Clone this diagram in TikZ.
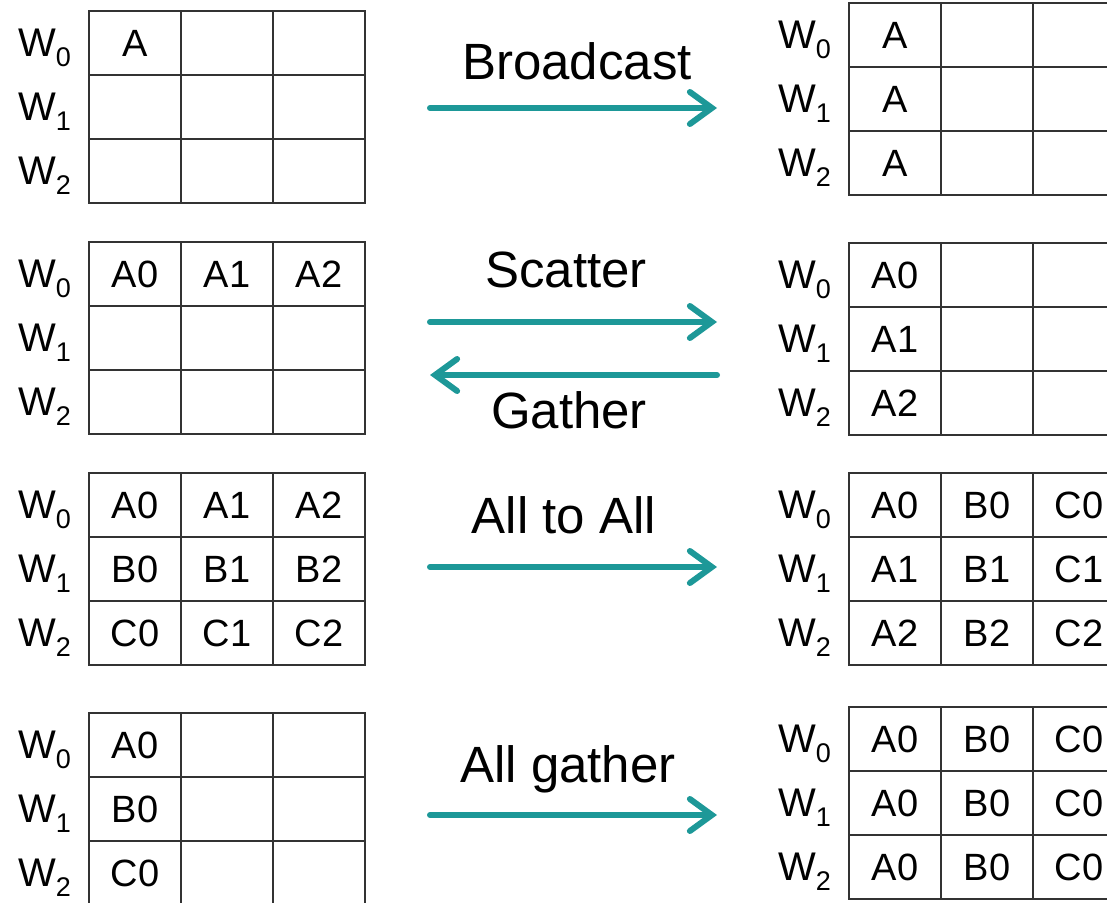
\documentclass[tikz,border=0pt]{standalone}
\usepackage{fontspec}
\setmainfont{Liberation Sans}
\usetikzlibrary{arrows.meta}

\definecolor{flowteal}{RGB}{29,152,152}

\def\cellw{92}
\def\cellh{64}

\newcommand\wsub[1]{\raisebox{-10pt}{\fontsize{27}{27}\selectfont #1}}

\tikzset{
  cell/.style={draw=black!80, line width=1.8pt, minimum width=\cellw pt,
               minimum height=\cellh pt, inner sep=0pt,
               font=\fontsize{38}{40}\selectfont},
  wlab/.style={anchor=base west, inner sep=0pt, font=\fontsize{40}{42}\selectfont},
  oplab/.style={anchor=base, inner sep=0pt, font=\fontsize{51}{54}\selectfont},
  flow/.style={draw=flowteal, line width=6pt,
               -{Straight Barb[length=22pt,width=32pt,line cap=round]}},
}

% one 3x3 buffer table: name, left x, top y, rows as row/c0/c1/c2
\newcommand\wgrid[4]{%
  \foreach \row/\ca/\cb/\cc in {#4}{
    \pgfmathsetmacro\ry{#3+\cellh*(\row+0.5)}
    \node[cell] (#1\row a) at ({#2+0.5*\cellw},\ry) {\ca};
    \node[cell] (#1\row b) at ({#2+1.5*\cellw},\ry) {\cb};
    \node[cell] (#1\row c) at ({#2+2.5*\cellw},\ry) {\cc};
    \node[wlab] (#1\row w) at ({#2-71},{\ry+13}) {W\wsub{\row}};
  }}

\begin{document}
\begin{tikzpicture}[x=1pt, y=-1pt, line cap=round]
\useasboundingbox (0,0) rectangle (1107,902);
\clip (0,0) rectangle (1107,902);

% broadcast
\wgrid{bl}{89}{11}{0/A//, 1///, 2///}
\wgrid{br}{849}{3}{0/A//, 1/A//, 2/A//}
\node[oplab] (bcast) at (577,79) {Broadcast};
\coordinate (bcast-s) at (430,108);
\coordinate (bcast-e) at (717,108);
\draw[flow] (bcast-s) -- (bcast-e);

% scatter / gather
\wgrid{sl}{89}{242}{0/A0/A1/A2, 1///, 2///}
\wgrid{sr}{849}{243}{0/A0//, 1/A1//, 2/A2//}
\node[oplab] (scat) at (566,287) {Scatter};
\node[oplab] (gath) at (569,428) {Gather};
\coordinate (scat-s) at (430,322);
\coordinate (scat-e) at (717,322);
\coordinate (gath-s) at (717,375);
\coordinate (gath-e) at (430,375);
\draw[flow] (scat-s) -- (scat-e);
\draw[flow] (gath-s) -- (gath-e);

% all to all
\wgrid{al}{89}{473}{0/A0/A1/A2, 1/B0/B1/B2, 2/C0/C1/C2}
\wgrid{ar}{849}{473}{0/A0/B0/C0, 1/A1/B1/C1, 2/A2/B2/C2}
\node[oplab] (a2a) at (564,533) {All to All};
\coordinate (a2a-s) at (430,567);
\coordinate (a2a-e) at (717,567);
\draw[flow] (a2a-s) -- (a2a-e);

% all gather
\wgrid{gl}{89}{713}{0/A0//, 1/B0//, 2/C0//}
\wgrid{gr}{849}{707}{0/A0/B0/C0, 1/A0/B0/C0, 2/A0/B0/C0}
\node[oplab] (agath) at (568,782) {All gather};
\coordinate (agath-s) at (430,815);
\coordinate (agath-e) at (717,815);
\draw[flow] (agath-s) -- (agath-e);
\end{tikzpicture}
\end{document}
